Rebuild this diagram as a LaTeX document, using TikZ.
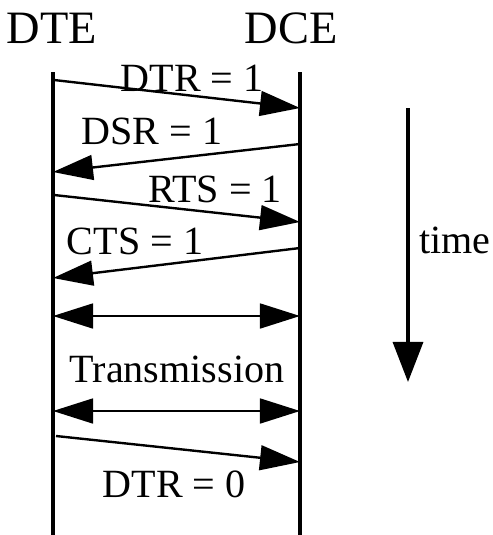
\documentclass[tikz,border=0pt]{standalone}
\usepackage{fontspec}
\setmainfont{Liberation Serif}
\usetikzlibrary{arrows.meta}

\begin{document}
\begin{tikzpicture}[x=0.025cm,y=-0.025cm,
  sig/.style={line width=1.7pt,-{Triangle[length=1cm,width=0.62cm]}},
  both/.style={line width=1.7pt,{Triangle[length=1cm,width=0.62cm]}-{Triangle[length=1cm,width=0.62cm]}},
  lbl/.style={font=\fontsize{28.5}{32}\selectfont,inner sep=0pt},
  ttl/.style={font=\fontsize{33}{36}\selectfont,inner sep=0pt}]
\useasboundingbox (0,0) rectangle (493,535);
% stations
\node[ttl] (dte) at (52,28) {DTE};
\node[ttl] (dce) at (291,28) {DCE};
\coordinate (l0) at (53,72); \coordinate (l1) at (53,535);
\coordinate (r0) at (300,72); \coordinate (r1) at (300,535);
\draw[line width=2.3pt] (l0) -- (l1);
\draw[line width=2.3pt] (r0) -- (r1);
% handshake
\coordinate (s1) at (54,80);  \coordinate (e1) at (300,108);
\coordinate (s2) at (300,144); \coordinate (e2) at (53,172);
\coordinate (s3) at (54,195); \coordinate (e3) at (300,222);
\coordinate (s4) at (300,248); \coordinate (e4) at (53,278);
\coordinate (s5) at (53,316); \coordinate (e5) at (300,316);
\coordinate (s6) at (53,411); \coordinate (e6) at (300,411);
\coordinate (s7) at (56,436); \coordinate (e7) at (300,462);
\draw[sig] (s1) -- (e1);
\draw[sig] (s2) -- (e2);
\draw[sig] (s3) -- (e3);
\draw[sig] (s4) -- (e4);
\draw[both] (s5) -- (e5);
\draw[both] (s6) -- (e6);
\draw[sig] (s7) -- (e7);
\node[lbl] (dtr1) at (192,78) {DTR = 1};
\node[lbl] (dsr1) at (152,131) {DSR = 1};
\node[lbl] (rts1) at (215,189) {RTS = 1};
\node[lbl] (cts1) at (135,241) {CTS = 1};
\node[lbl] (tx) at (177,369) {Transmission};
\node[lbl] (dtr0) at (174,484) {DTR = 0};
% time axis
\coordinate (t0) at (408,108); \coordinate (t1) at (408,382);
\draw[line width=2.3pt,-{Triangle[length=1cm,width=0.75cm]}] (t0) -- (t1);
\node[lbl] (time) at (455,240) {time};
\end{tikzpicture}
\end{document}
